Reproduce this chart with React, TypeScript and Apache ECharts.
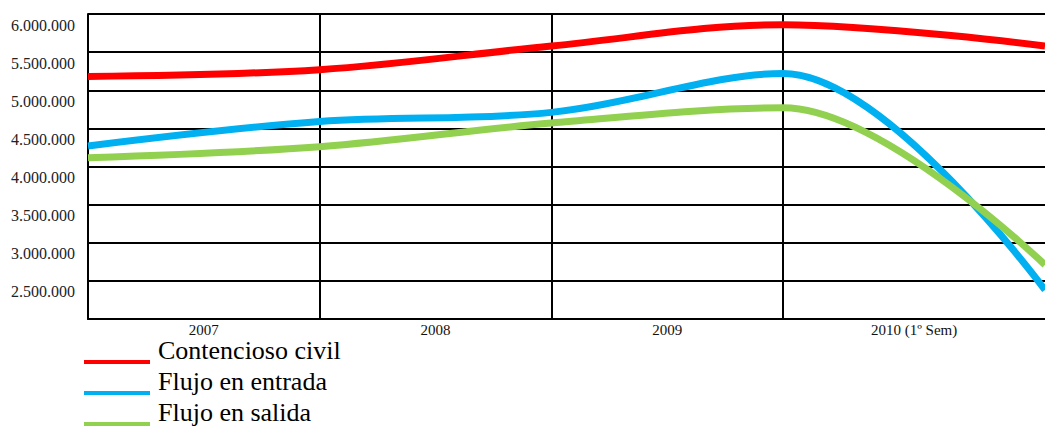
import React, { useEffect, useRef } from "react";
import * as echarts from "echarts";

// Category labels (x axis)
const categories = ["2007", "2008", "2009", "2010 (1º Sem)"];
// x positions of the sampled points, in category units (boundaries of categories + right edge)
const pointX = [0, 1, 2, 3, 4.13];
// Series values
const contencioso = [5180000, 5270000, 5580000, 5860000, 5580000];
const entrada = [4270000, 4590000, 4710000, 5220000, 2380000];
const salida = [4115000, 4260000, 4570000, 4770000, 2710000];
// y ticks
const yMin = 2000000;
const yMax = 6000000;
const yStep = 500000;

const seriesNames = ["Contencioso civil", "Flujo en entrada", "Flujo en salida"];
const seriesColors = ["#FF0000", "#00B0F0", "#92D050"];
const seriesValues = [contencioso, entrada, salida];

const fmt = (v: number) => String(Math.round(v)).replace(/\B(?=(\d{3})+(?!\d))/g, ".");
const serif = "'Liberation Serif', 'Times New Roman', serif";

export default function App() {
  const ref = useRef<HTMLDivElement>(null);
  useEffect(() => {
    if (!ref.current) return;
    const chart = echarts.init(ref.current, undefined, { renderer: "svg" });
    const xMax = pointX[pointX.length - 1];
    const bounds = pointX;
    const labelPos = categories.map((_, i) => (bounds[i] + bounds[i + 1]) / 2);
    const legendIcon = "path://M0,0 L0,0 M0,23 L66,23 L66,27 L0,27 Z";
    chart.setOption({
      animation: false,
      color: seriesColors,
      textStyle: { fontFamily: serif },
      grid: { left: 88, right: 0, top: 14, bottom: 109, containLabel: false },
      legend: {
        orient: "vertical",
        left: 84,
        top: 337,
        height: 91,
        itemWidth: 66,
        itemHeight: 27,
        itemGap: 4,
        padding: 0,
        icon: legendIcon,
        itemStyle: { borderWidth: 0 },
        formatter: (name: string) => "{t|" + name + "}",
        textStyle: {
          fontFamily: serif,
          fontSize: 26,
          color: "#000",
          rich: { t: { fontFamily: serif, fontSize: 26, color: "#000", padding: [0, 0, 0, 3] } },
        },
        data: seriesNames,
        selectedMode: false,
      },
      xAxis: [
        {
          type: "value",
          min: 0,
          max: xMax,
          axisLine: { show: true, onZero: false, lineStyle: { color: "#000", width: 2 } },
          axisTick: { show: false, customValues: [1, 2, 3] },
          splitLine: { show: true, lineStyle: { color: "#000", width: 2 } },
          axisLabel: {
            customValues: labelPos,
            formatter: (v: number) => {
              const idx = labelPos.findIndex((p) => Math.abs(p - v) < 1e-6);
              return idx >= 0 ? categories[idx] : "";
            },
            fontFamily: serif,
            fontSize: 15,
            color: "#111",
            margin: 3,
          },
        },
      ],
      yAxis: {
        type: "value",
        min: yMin,
        max: yMax,
        interval: yStep,
        axisLine: { show: true, lineStyle: { color: "#000", width: 2 } },
        axisTick: { show: false },
        splitLine: { show: true, lineStyle: { color: "#000", width: 2 } },
        axisLabel: {
          formatter: (v: number) => fmt(v),
          showMinLabel: false,
          fontFamily: serif,
          fontSize: 16,
          color: "#222",
          margin: 13,
          verticalAlign: "top",
          padding: [3, 0, 0, 0],
        },
      },
      series: seriesNames.map((name, i) => ({
        name,
        type: "line",
        smooth: 0.35,
        symbol: "none",
        lineStyle: { width: 7, color: seriesColors[i] },
        itemStyle: { color: seriesColors[i] },
        data: pointX.map((x, j) => [x, seriesValues[i][j]]),
        z: 3,
      })),
    });
    return () => chart.dispose();
  }, []);
  return (
    <div
      ref={ref}
      style={{ position: "absolute", left: 0, top: 0, width: 1045, height: 428, background: "#fff" }}
    />
  );
}
